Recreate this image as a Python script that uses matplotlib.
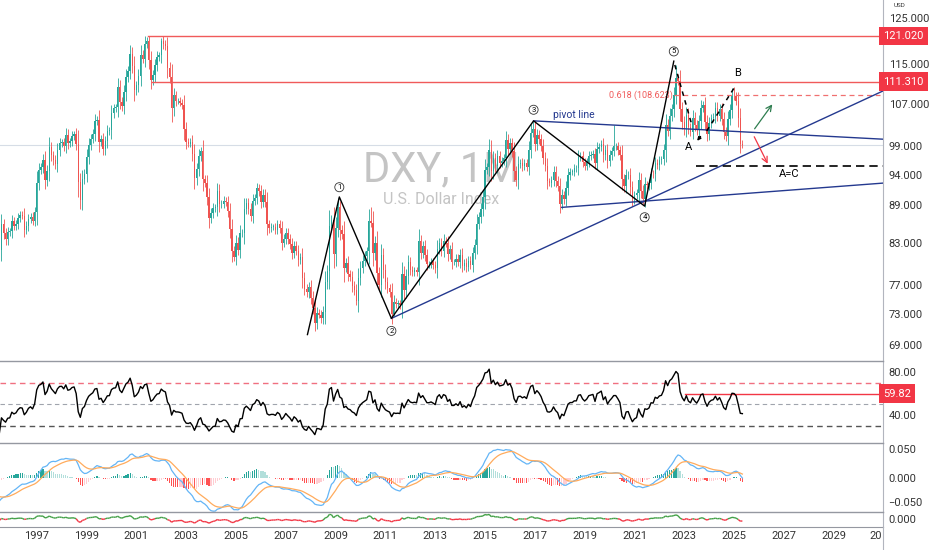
import numpy as np
import pandas as pd
import matplotlib
matplotlib.use("Agg")
import matplotlib.pyplot as plt
import matplotlib.transforms as mtransforms
from matplotlib.collections import LineCollection
from matplotlib.lines import Line2D

plt.rcParams['font.family'] = ['Roboto', 'DejaVu Sans']

# monthly DXY closes, Jan 1994 .. May 2025 (1994 - mid 1995 only used as indicator warm-up)
first_year = 1994
closes = [
    95.6, 93.8, 93.3, 91.8, 91.7, 89.3, 89.9, 89.6, 87.7, 85.9, 88.3, 88.7,      # 1994
    87.3, 84.4, 80.9, 81.3, 82.3, 81.4, 82.0, 85.9, 84.6, 83.6, 84.7, 84.8,      # 1995
    86.4, 85.7, 86.0, 86.9, 87.4, 87.3, 85.1, 85.7, 86.7, 87.1, 86.5, 87.8,      # 1996
    92.6, 94.8, 95.3, 96.6, 93.2, 94.7, 98.8, 97.4, 96.6, 95.8, 98.3, 99.6,      # 1997
    99.7, 99.0, 101.1, 99.6, 99.9, 100.9, 101.2, 99.5, 92.8, 89.8, 93.3, 94.2,   # 1998
    97.1, 99.3, 100.4, 101.3, 103.6, 103.9, 99.8, 100.3, 98.5, 99.9, 101.8, 101.9,  # 1999
    105.2, 106.1, 106.3, 110.2, 107.4, 106.5, 109.2, 112.3, 113.6, 117.1, 114.6, 109.6,  # 2000
    110.6, 112.6, 117.0, 116.1, 119.3, 119.9, 115.8, 111.7, 112.7, 114.8, 116.5, 116.8,  # 2001
    120.0, 119.2, 118.8, 114.2, 112.4, 106.1, 108.6, 107.5, 107.5, 107.2, 106.7, 102.2,  # 2002
    99.8, 99.5, 99.8, 97.6, 93.4, 95.0, 97.3, 98.1, 93.3, 92.7, 90.3, 86.9,      # 2003
    87.7, 88.5, 88.6, 91.3, 89.1, 89.2, 89.7, 89.5, 88.0, 85.2, 81.8, 80.9,      # 2004
    83.1, 82.0, 84.5, 84.6, 88.4, 89.3, 88.4, 87.3, 89.6, 90.1, 91.7, 91.2,      # 2005
    89.5, 90.7, 89.5, 85.9, 85.3, 85.5, 85.5, 85.1, 85.9, 85.3, 83.1, 83.7,      # 2006
    84.6, 83.7, 82.9, 81.6, 82.6, 81.9, 80.5, 80.9, 77.9, 76.4, 75.9, 76.7,      # 2007
    75.2, 73.8, 71.8, 73.1, 72.9, 72.4, 73.3, 77.3, 78.9, 85.6, 86.6, 81.4,      # 2008
    85.4, 88.6, 85.1, 84.4, 79.4, 80.1, 78.5, 78.1, 76.8, 76.2, 74.7, 77.9,      # 2009
    79.4, 80.4, 81.1, 81.8, 86.4, 86.1, 81.5, 83.1, 78.6, 77.0, 81.2, 79.0,      # 2010
    77.3, 76.5, 75.9, 73.0, 74.6, 74.3, 74.4, 74.2, 78.5, 76.2, 78.2, 80.2,      # 2011
    79.1, 78.8, 79.0, 78.8, 83.3, 81.6, 82.6, 81.3, 79.9, 79.9, 80.2, 79.8,      # 2012
    79.3, 82.1, 83.0, 81.9, 83.4, 83.1, 81.4, 82.1, 80.2, 80.2, 80.7, 80.2,      # 2013
    81.3, 79.7, 80.1, 79.5, 80.4, 79.8, 81.5, 82.8, 86.0, 87.0, 88.4, 90.3,      # 2014
    94.8, 95.3, 98.4, 94.6, 96.9, 95.5, 97.3, 96.1, 96.4, 96.9, 100.2, 98.6,     # 2015
    99.6, 98.2, 94.6, 93.1, 95.9, 96.1, 95.5, 96.0, 95.4, 98.4, 101.5, 102.2,    # 2016
    99.5, 101.1, 100.3, 99.1, 97.0, 95.6, 92.9, 92.7, 93.1, 94.5, 93.0, 92.1,    # 2017
    89.1, 90.6, 89.9, 91.8, 93.9, 94.5, 94.5, 95.1, 95.1, 97.1, 97.3, 96.2,      # 2018
    95.6, 96.2, 97.3, 97.5, 97.7, 96.1, 98.5, 98.9, 99.4, 97.4, 98.3, 96.4,      # 2019
    97.4, 98.1, 99.0, 99.0, 98.3, 97.4, 93.3, 92.1, 93.9, 94.0, 91.9, 89.9,      # 2020
    90.6, 90.9, 93.2, 91.3, 90.0, 92.4, 92.2, 92.6, 94.2, 94.1, 96.0, 95.7,      # 2021
    96.5, 96.7, 98.3, 103.0, 101.8, 104.7, 105.9, 108.7, 112.1, 111.5, 105.9, 103.5,  # 2022
    102.1, 104.9, 102.5, 101.7, 104.3, 102.9, 101.9, 103.6, 106.2, 106.7, 103.5, 101.3,  # 2023
    103.3, 104.2, 104.5, 106.2, 104.7, 105.9, 104.1, 101.7, 100.8, 104.0, 105.7, 108.5,  # 2024
    108.4, 107.6, 104.2, 99.5, 99.3,                                               # 2025
]

# notable wick extremes: (year, month, value)
wick_highs = [(2000, 10, 119.0), (2001, 7, 121.02), (2002, 1, 120.5), (2005, 11, 92.6),
              (2009, 3, 89.6), (2010, 6, 88.7), (2015, 3, 100.4), (2016, 12, 103.6),
              (2017, 1, 103.8), (2020, 3, 103.0), (2022, 9, 114.8), (2025, 1, 110.2)]
wick_lows = [(2004, 12, 80.4), (2008, 3, 70.7), (2009, 11, 74.2), (2011, 5, 72.7),
             (2014, 5, 78.9), (2018, 2, 88.3), (2021, 1, 89.2), (2025, 4, 97.9)]

# drawings
wave_dates = [2007.87, 2009.15, 2011.24, 2016.95, 2021.41, 2022.58]
wave_prices = [70.3, 90.3, 72.4, 103.7, 88.8, 115.6]
wave_labels = ['', '1', '2', '3', '4', '5']
wave_offsets = [0, 7, -9, 8, -8, 7]

level_prices = [121.02, 111.31]
level_starts = [2001.47, 2001.64]
fib_price = 108.623
fib_start = 2022.58
ac_price = 95.5
ac_start = 2023.46
rsi_level = 59.82
rsi_level_start = 2023.02

x_left, x_right = 1995.525, 2030.98
pivot_line = ([2016.95, x_right], [103.7, 100.3])
rising_line = ([2011.24, x_right], [72.4, 109.5])
lower_line = ([2018.08, x_right], [88.6, 92.6])

year_ticks = list(range(1997, 2030, 2))
price_ticks = [69, 73, 77, 83, 89, 94, 99, 107, 115, 125]

# ---- derived series ----
c = np.array(closes, dtype=float)
n = len(c)
dates = first_year + np.arange(n) / 12.0
o = np.r_[c[0], c[:-1]]
body = np.abs(c - o)
hi = np.maximum(o, c) + 0.3 * body + 0.006 * c
lo = np.minimum(o, c) - 0.3 * body - 0.006 * c
for y, m, v in wick_highs:
    hi[(y - first_year) * 12 + m - 1] = v
for y, m, v in wick_lows:
    lo[(y - first_year) * 12 + m - 1] = v

def rsi(series, period=14):
    d = np.diff(series)
    up = np.clip(d, 0, None)
    dn = np.clip(-d, 0, None)
    au = np.full(len(series), np.nan)
    ad = np.full(len(series), np.nan)
    au[period] = up[:period].mean()
    ad[period] = dn[:period].mean()
    for i in range(period + 1, len(series)):
        au[i] = (au[i - 1] * (period - 1) + up[i - 1]) / period
        ad[i] = (ad[i - 1] * (period - 1) + dn[i - 1]) / period
    return 100 - 100 / (1 + au / ad)

r = rsi(c)
logc = pd.Series(np.log(c))
macd = (logc.ewm(span=12, adjust=False).mean() - logc.ewm(span=26, adjust=False).mean()).values
signal = pd.Series(macd).ewm(span=9, adjust=False).mean().values
hist = macd - signal
mom = pd.Series(np.r_[0, np.diff(np.log(c))]).ewm(span=12, adjust=False).mean().values

# ---- figure ----
W, H = 932, 550
fig = plt.figure(figsize=(W / 100, H / 100), dpi=100)
fig.patch.set_facecolor('white')
axr = 883 / W
ax = fig.add_axes([0, 1 - 361 / H, axr, 361 / H])
ax_rsi = fig.add_axes([0, 1 - 443 / H, axr, 82 / H], sharex=ax)
ax_macd = fig.add_axes([0, 1 - 512 / H, axr, 69 / H], sharex=ax)
ax_bot = fig.add_axes([0, 1 - 527 / H, axr, 15 / H], sharex=ax)

sep = '#9598a1'
txt = '#333333'
fs = 8
green, red = '#26a69a', '#ef5350'
for a in (ax, ax_rsi, ax_macd, ax_bot):
    for s in ('left', 'top', 'bottom'):
        a.spines[s].set_visible(False)
    a.spines['right'].set_color('#b2b5be')
    a.yaxis.tick_right()
    a.tick_params(axis='y', length=0, pad=4, labelsize=fs, labelcolor=txt)
    a.tick_params(axis='x', length=0, labelbottom=False)
    a.set_facecolor('white')
for a in (ax_rsi, ax_macd, ax_bot):
    a.spines['top'].set_visible(True)
    a.spines['top'].set_color(sep)
    a.spines['top'].set_linewidth(1.0)
ax_bot.spines['bottom'].set_visible(True)
ax_bot.spines['bottom'].set_color(sep)
fig.add_artist(Line2D([axr, axr], [0, 1 - 527 / H], color='#b2b5be', lw=0.8))

# ---- main price panel ----
ax.set_yscale('log')
ax.set_ylim(67.0, 129.2)
ax.set_xlim(x_left, x_right)
cols = np.where(c >= o, green, red)
ax.vlines(dates, lo, hi, colors=cols, lw=0.6, zorder=3)
ax.bar(dates, np.maximum(body, 0.08), bottom=np.minimum(o, c), width=0.055,
       color=cols, linewidth=0, zorder=3)
ax.set_yticks(price_ticks)
ax.set_yticklabels([f'{p:.3f}' for p in price_ticks])
ax.yaxis.set_minor_locator(matplotlib.ticker.NullLocator())

ax.text(0.4994, 0.529, 'DXY, 1M', transform=ax.transAxes, fontsize=30,
        color='#c4c4c4', ha='center', va='center', zorder=1)
ax.text(0.4994, 0.446, 'U.S. Dollar Index', transform=ax.transAxes, fontsize=11.5,
        color='#c4c4c4', ha='center', va='center', zorder=1)

ax.axhline(c[-1], color='#d6dde6', lw=0.8, zorder=2)
trans_r = mtransforms.blended_transform_factory(ax.transAxes, ax.transData)
lred = '#f05a5a'
for p, s in zip(level_prices, level_starts):
    ax.plot([s, x_right], [p, p], color=lred, lw=1.0, zorder=4)
    ax.text(1.0, p, f'{p:.3f}', transform=trans_r, fontsize=fs, color='white',
            ha='left', va='center', clip_on=False, zorder=6,
            bbox=dict(boxstyle='square,pad=0.4', fc='#f23645', ec='none'))
ax.text(1.012, 0.985, 'USD', transform=ax.transAxes, fontsize=4.5, color=txt,
        ha='left', va='center')

ax.plot([fib_start, x_right - 0.12], [fib_price, fib_price], color='#f07070', lw=0.9,
        ls=(0, (4, 3)), zorder=4)
ax.text(fib_start - 0.05, fib_price, f'0.618 ({fib_price:.3f})', fontsize=6.5,
        color='#f05a5a', ha='right', va='center', zorder=5)

navy = '#24398f'
for xs, ys in (pivot_line, rising_line, lower_line):
    ax.plot(xs, ys, color=navy, lw=1.0, zorder=4)
ax.text(2018.56, 104.9, 'pivot line', fontsize=7.5, color=navy, ha='center',
        va='center', zorder=5)

ax.plot(wave_dates, wave_prices, color='black', lw=1.0, zorder=5)
for d, p, lab, off in zip(wave_dates, wave_prices, wave_labels, wave_offsets):
    if lab:
        ax.annotate(lab, xy=(d, p), xytext=(0, off), textcoords='offset points',
                    fontsize=5.5, ha='center', va='center', zorder=6,
                    bbox=dict(boxstyle='circle,pad=0.2', fc='white', ec='#333333', lw=0.6))

ax.plot([2022.62, 2023.3], [114.8, 103.0], color='black', lw=1.1, ls=(0, (3, 3)), zorder=5)
ax.annotate('', xy=(2023.45, 99.6), xytext=(2023.72, 101.2),
            arrowprops=dict(arrowstyle='-|>', color='black', lw=1.0,
                            mutation_scale=5), zorder=5)
ax.plot([2023.9, 2024.99], [101.8, 110.0], color='black', lw=1.1, ls=(0, (3, 3)), zorder=5)
ax.text(2023.18, 98.9, 'A', fontsize=8, ha='center', va='center', zorder=6)
ax.text(2025.15, 113.1, 'B', fontsize=8, ha='center', va='center', zorder=6)
ax.plot([ac_start, x_right], [ac_price, ac_price], color='black', lw=1.2,
        ls=(0, (5, 3)), zorder=5)
ax.text(2027.2, 94.1, 'A=C', fontsize=8, ha='center', va='center', zorder=6)
ax.annotate('', xy=(2026.6, 107.3), xytext=(2025.76, 101.8),
            arrowprops=dict(arrowstyle='->', color='#2e7d4f', lw=0.9), zorder=5)
ax.annotate('', xy=(2026.4, 95.5), xytext=(2025.76, 101.2),
            arrowprops=dict(arrowstyle='->', color='#f23645', lw=0.9), zorder=5)

# ---- RSI panel ----
ax_rsi.set_ylim(14, 90)
ax_rsi.axhline(70, color='#f07080', lw=1.0, ls=(0, (4, 3)))
ax_rsi.axhline(50, color='#a0a4ad', lw=0.8, ls=(0, (4, 3)))
ax_rsi.axhline(30, color='#555555', lw=1.0, ls=(0, (4, 3)))
ax_rsi.plot(dates, r, color='black', lw=1.0, zorder=4)
ax_rsi.plot([rsi_level_start, x_right], [rsi_level, rsi_level], color='#f23645', lw=1.0)
ax_rsi.set_yticks([40, 80])
ax_rsi.set_yticklabels(['40.00', '80.00'])
trans_rsi = mtransforms.blended_transform_factory(ax_rsi.transAxes, ax_rsi.transData)
ax_rsi.text(1.0, rsi_level, f'{rsi_level:.2f}', transform=trans_rsi, fontsize=fs,
            color='white', ha='left', va='center', clip_on=False,
            bbox=dict(boxstyle='square,pad=0.4', fc='#f23645', ec='none'))

# ---- MACD panel ----
ax_macd.set_ylim(-0.057, 0.060)
dh = np.r_[0, np.diff(hist)]
hcols = np.where(hist >= 0, np.where(dh >= 0, '#26a69a', '#b2dfdb'),
                 np.where(dh <= 0, '#ff5252', '#ffcdd2'))
ax_macd.bar(dates, hist, width=0.05, color=hcols, linewidth=0)
ax_macd.plot(dates, macd, color='#64b5f6', lw=0.9)
ax_macd.plot(dates, signal, color='#ffab5c', lw=0.9)
ax_macd.set_yticks([0.05, 0.0, -0.05])
ax_macd.set_yticklabels(['0.050', '0.000', '\u22120.050'])
ax_macd.get_yticklabels()[2].set_verticalalignment('bottom')

# ---- bottom momentum panel ----
ax_bot.set_ylim(-0.032, 0.028)
pts = np.column_stack([dates, mom])
segs = np.stack([pts[:-1], pts[1:]], axis=1)
seg_cols = np.where((mom[:-1] + mom[1:]) / 2 >= 0, '#43a047', '#f23645')
ax_bot.add_collection(LineCollection(segs, colors=seg_cols, linewidths=1.0))
ax_bot.set_yticks([0.0])
ax_bot.set_yticklabels(['0.000'])
ax_bot.set_xticks(year_ticks)
ax_bot.set_xticklabels([str(y) for y in year_ticks])
ax_bot.tick_params(axis='x', labelbottom=True, labelsize=fs, labelcolor=txt, pad=3)
ax_bot.text(x_right - 0.05, -0.032, '20', fontsize=fs, color=txt, ha='right',
            va='top', transform=mtransforms.offset_copy(ax_bot.transData, fig=fig, y=-3, units='points'))
ax_bot.set_xlim(x_left, x_right)

fig.savefig('out.png', dpi=100)
